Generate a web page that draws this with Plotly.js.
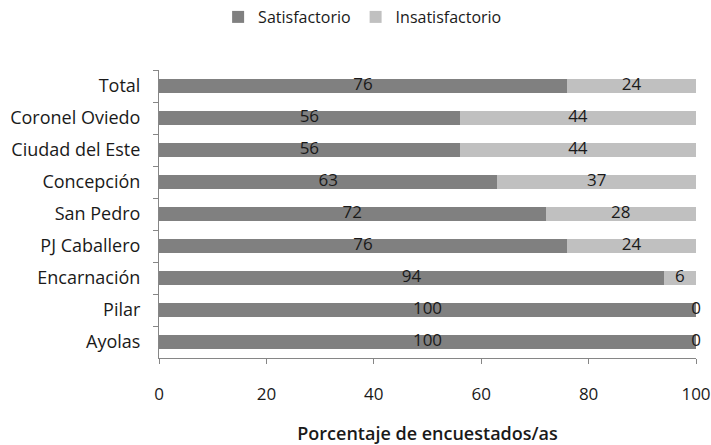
<!DOCTYPE html>
<html>
<head>
<meta charset="utf-8">
<script src="https://cdn.plot.ly/plotly-3.0.1.min.js"></script>
<style>html,body{margin:0;padding:0;background:#fff;}#chart{width:711px;height:445px;}</style>
</head>
<body>
<div id="chart"></div>
<script>
var categories = ["Total","Coronel Oviedo","Ciudad del Este","Concepción","San Pedro","PJ Caballero","Encarnación","Pilar","Ayolas"];
var satisfactorio = [76,56,56,63,72,76,94,100,100];
var insatisfactorio = [24,44,44,37,28,24,6,0,0];
var xTicks = [0,20,40,60,80,100];

var FONT = "Open Sans, sans-serif";
var TXT = "#1a1a1a";

var satLabelX = satisfactorio.map(function(v){return v/2;});
var insLabelX = satisfactorio.map(function(v,i){return v + insatisfactorio[i]/2;});

var data = [
  {type:"bar", orientation:"h", name:"Satisfactorio", y:categories, x:satisfactorio,
   marker:{color:"#808080"}, hoverinfo:"x+y"},
  {type:"bar", orientation:"h", name:"Insatisfactorio", y:categories, x:insatisfactorio,
   marker:{color:"#c0c0c0"}, hoverinfo:"x+y"},
  {type:"scatter", mode:"text", y:categories, x:satLabelX, text:satisfactorio.map(String),
   textfont:{family:FONT,size:17,color:TXT}, showlegend:false, cliponaxis:false, hoverinfo:"skip"},
  {type:"scatter", mode:"text", y:categories, x:insLabelX, text:insatisfactorio.map(String),
   textfont:{family:FONT,size:17,color:TXT}, showlegend:false, cliponaxis:false, hoverinfo:"skip"}
];

var layout = {
  width:711, height:445,
  margin:{l:159, r:15, t:70, b:87},
  paper_bgcolor:"#fff", plot_bgcolor:"#fff",
  barmode:"stack", bargap:0.56,
  font:{family:FONT, size:16, color:TXT},
  showlegend:true,
  legend:{orientation:"h", x:0.51, xref:"container", xanchor:"center", y:1, yref:"container", yanchor:"top",
          font:{family:FONT,size:16,color:TXT}, itemwidth:30, traceorder:"normal"},
  xaxis:{range:[0,100], tickvals:xTicks, ticktext:xTicks.map(String), showgrid:false, zeroline:false,
         showline:true, linecolor:"#868686", linewidth:1, ticks:"outside", ticklen:5, tickcolor:"#868686",
         ticklabelstandoff:16, tickfont:{family:FONT,size:17,color:TXT},
         title:{text:"Porcentaje de encuestados/as", font:{family:FONT,size:18,color:TXT,weight:600}, standoff:24},
         fixedrange:true},
  yaxis:{autorange:"reversed", type:"category", showgrid:false, zeroline:false,
         showline:true, linecolor:"#868686", linewidth:1, ticks:"outside", ticklen:5, tickcolor:"#868686",
         tickson:"boundaries", ticklabelstandoff:14, tickfont:{family:FONT,size:18,color:TXT}, fixedrange:true}
};

Plotly.newPlot("chart", data, layout, {displayModeBar:false, staticPlot:true});
</script>
</body>
</html>
